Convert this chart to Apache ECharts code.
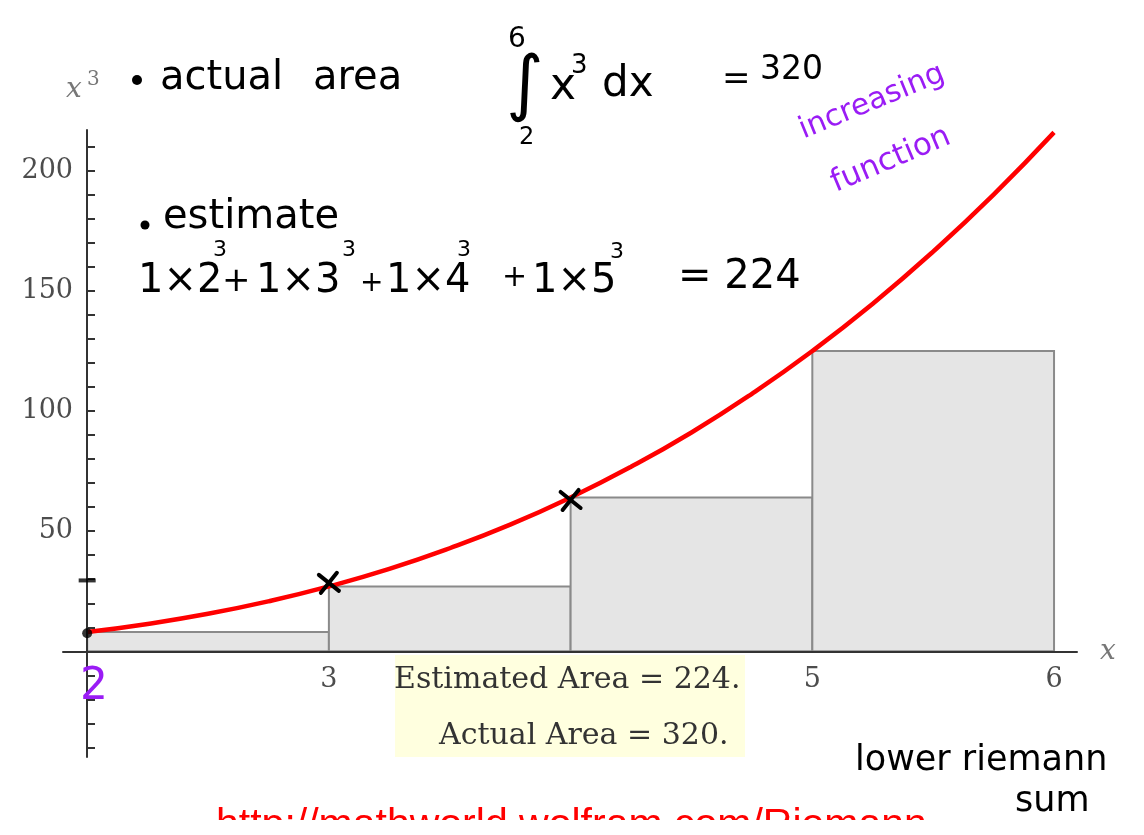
<!DOCTYPE html>
<html>
<head>
<meta charset="utf-8">
<script src="https://cdn.jsdelivr.net/npm/echarts@6/dist/echarts.min.js"></script>
<style>
  html, body { margin: 0; padding: 0; background: #ffffff; }
  #chart { width: 1144px; height: 835px; }
</style>
</head>
<body>
<div id="chart"></div>
<script>
// y = x^3 sampled between x = 2 and x = 6
const curveX = [2, 2.25, 2.5, 2.75, 3, 3.25, 3.5, 3.75, 4, 4.25, 4.5, 4.75, 5, 5.25, 5.5, 5.75, 6];
const curveY = [8, 11.4, 15.6, 20.8, 27, 34.3, 42.9, 52.7, 64, 76.8, 91.1, 107.2, 125, 144.7, 166.4, 190.1, 216];

// lower Riemann sum: left edge and height of each unit-width rectangle
const rectLeft = [2, 3, 4, 5];
const rectHeight = [8, 27, 64, 125];
const rectWidth = 1;

// axis ticks and labels
const yTickValues = [-40, -30, -20, -10, 0, 10, 20, 30, 40, 50, 60, 70, 80, 90, 100,
                     110, 120, 130, 140, 150, 160, 170, 180, 190, 200, 210];
const yLabelValues = [50, 100, 150, 200];
const xLabelValues = [3, 5, 6];

// hand-drawn marks on the curve
const dotPoints = [[2, 7.5]];
const dashPoints = [[2, 29.5]];
const crossPoints = [[3, 28.5], [4, 63]];

const estimatedArea = 224;
const actualArea = 320;

const serif = 'DejaVu Serif';
const hand = 'DejaVu Sans';
const ink = '#000000';
const violet = '#9a1cf5';

// plot frame: y range and where the value 0 falls inside it
const yMin = -44, yMax = 217;
const gridTop = 130, gridBottom = 78, chartH = 835;
const plotH = chartH - gridTop - gridBottom;
const zeroFromBottom = plotH * (0 - yMin) / (yMax - yMin);

function txt(text, x, y, size, extra) {
  const o = extra || {};
  return {
    type: 'text', x: x, y: y, z: 50,
    rotation: o.rotation || 0,
    style: {
      text: text,
      fill: o.fill || ink,
      fontFamily: o.family || hand,
      fontSize: size,
      fontStyle: o.italic ? 'italic' : 'normal',
      align: o.align || 'left',
      verticalAlign: o.valign || 'middle'
    }
  };
}
function dot(x, y, r) {
  return { type: 'circle', z: 50, shape: { cx: x, cy: y, r: r }, style: { fill: ink } };
}

const chart = echarts.init(document.getElementById('chart'), null, { renderer: 'canvas' });

const option = {
  animation: false,
  backgroundColor: '#ffffff',
  grid: { left: 63, right: 67, top: gridTop, bottom: gridBottom },
  xAxis: {
    type: 'value', min: 1.9, max: 6.095, z: 10,
    offset: -zeroFromBottom,
    axisLine: { onZero: false, lineStyle: { color: '#333333', width: 2 } },
    axisTick: { show: false },
    splitLine: { show: false },
    axisLabel: { customValues: xLabelValues, margin: 15, color: '#4d4d4d', fontFamily: serif, fontSize: 27 }
  },
  yAxis: {
    type: 'value', min: yMin, max: yMax, offset: -24, z: 10,
    axisLine: { show: true, onZero: false, lineStyle: { color: '#333333', width: 2 } },
    axisTick: { show: true, inside: true, length: 8, customValues: yTickValues, lineStyle: { color: '#333333', width: 2 } },
    splitLine: { show: false },
    axisLabel: { customValues: yLabelValues, margin: 14, color: '#4d4d4d', fontFamily: serif, fontSize: 27 }
  },
  series: [
    {
      type: 'custom',
      z: 2,
      data: rectLeft.map((x, i) => [x, rectHeight[i]]),
      renderItem: function (params, api) {
        const x0 = api.value(0);
        const h = api.value(1);
        const top = api.coord([x0, h]);
        const bot = api.coord([x0 + rectWidth, 0]);
        return {
          type: 'rect',
          shape: { x: top[0], y: top[1], width: bot[0] - top[0], height: bot[1] - top[1] },
          style: { fill: '#e5e5e5', stroke: '#8a8a8a', lineWidth: 2 }
        };
      }
    },
    {
      type: 'line',
      z: 5,
      smooth: true,
      showSymbol: false,
      data: curveX.map((x, i) => [x, curveY[i]]),
      lineStyle: { color: '#ff0000', width: 4.5 }
    },
    {
      type: 'scatter', z: 12,
      data: dotPoints, symbol: 'circle', symbolSize: 10,
      itemStyle: { color: ink }
    },
    {
      type: 'scatter', z: 12,
      data: dashPoints, symbol: 'rect', symbolSize: [17, 4],
      itemStyle: { color: ink }
    },
    {
      // pen crosses marking sample heights
      type: 'custom', z: 12,
      data: crossPoints,
      renderItem: function (params, api) {
        const p = api.coord([api.value(0), api.value(1)]);
        const s = 10;
        const st = { stroke: ink, lineWidth: 4, lineCap: 'round' };
        return {
          type: 'group',
          children: [
            { type: 'line', shape: { x1: p[0] - s, y1: p[1] - s * 0.8, x2: p[0] + s, y2: p[1] + s * 0.8 }, style: st },
            { type: 'line', shape: { x1: p[0] - s * 0.8, y1: p[1] + s, x2: p[0] + s * 0.8, y2: p[1] - s }, style: st }
          ]
        };
      }
    }
  ],
  graphic: [
    // axis names
    txt('x', 66, 90, 28, { family: serif, italic: true, fill: '#777777' }),
    txt('3', 87, 80, 20, { family: serif, fill: '#777777' }),
    txt('x', 1100, 652, 28, { family: serif, italic: true, fill: '#777777' }),

    // result box under the axis
    { type: 'rect', z: 40, shape: { x: 395, y: 655, width: 350, height: 102 }, style: { fill: '#ffffdf' } },
    txt('Estimated Area = ' + estimatedArea + '.', 394, 680, 30, { family: serif, fill: '#333333' }),
    txt('Actual Area = ' + actualArea + '.', 439, 736, 30, { family: serif, fill: '#333333' }),

    // notes: actual area
    dot(137, 80, 5),
    txt('actual', 160, 79, 40),
    txt('area', 313, 79, 40),
    txt('∫', 506, 88, 72),
    txt('6', 508, 40, 28),
    txt('2', 519, 138, 24),
    txt('x', 550, 88, 44),
    txt('3', 571, 66, 26),
    txt('dx', 602, 85, 42),
    txt('=', 722, 80, 34),
    txt('320', 760, 70, 33),
    txt('increasing', 872, 102, 30, { fill: violet, align: 'center', rotation: 0.39 }),
    txt('function', 891, 160, 31, { fill: violet, align: 'center', rotation: 0.40 }),

    // notes: estimate
    dot(145, 225, 4.5),
    txt('estimate', 163, 218, 40),
    txt('1×2', 138, 282, 40),
    txt('3', 213, 250, 22),
    txt('+', 222, 282, 34),
    txt('1×3', 256, 282, 40),
    txt('3', 342, 250, 22),
    txt('+', 360, 284, 28),
    txt('1×4', 386, 282, 40),
    txt('3', 457, 250, 22),
    txt('+', 502, 278, 30),
    txt('1×5', 532, 282, 40),
    txt('3', 610, 252, 22),
    txt('= 224', 678, 278, 40),

    // start of interval
    txt('2', 80, 688, 44, { fill: violet }),

    // sum type
    txt('lower riemann', 855, 761, 35),
    txt('sum', 1015, 802, 35),

    // source line along the bottom edge
    txt('http://mathworld.wolfram.com/Riemann', 216, 846, 41,
        { family: 'Liberation Sans', fill: '#ff0000', valign: 'bottom' }),
    { type: 'rect', z: 60, shape: { x: 150, y: 820, width: 840, height: 20 }, style: { fill: '#ffffff' } }
  ]
};

chart.setOption(option);
</script>
</body>
</html>
